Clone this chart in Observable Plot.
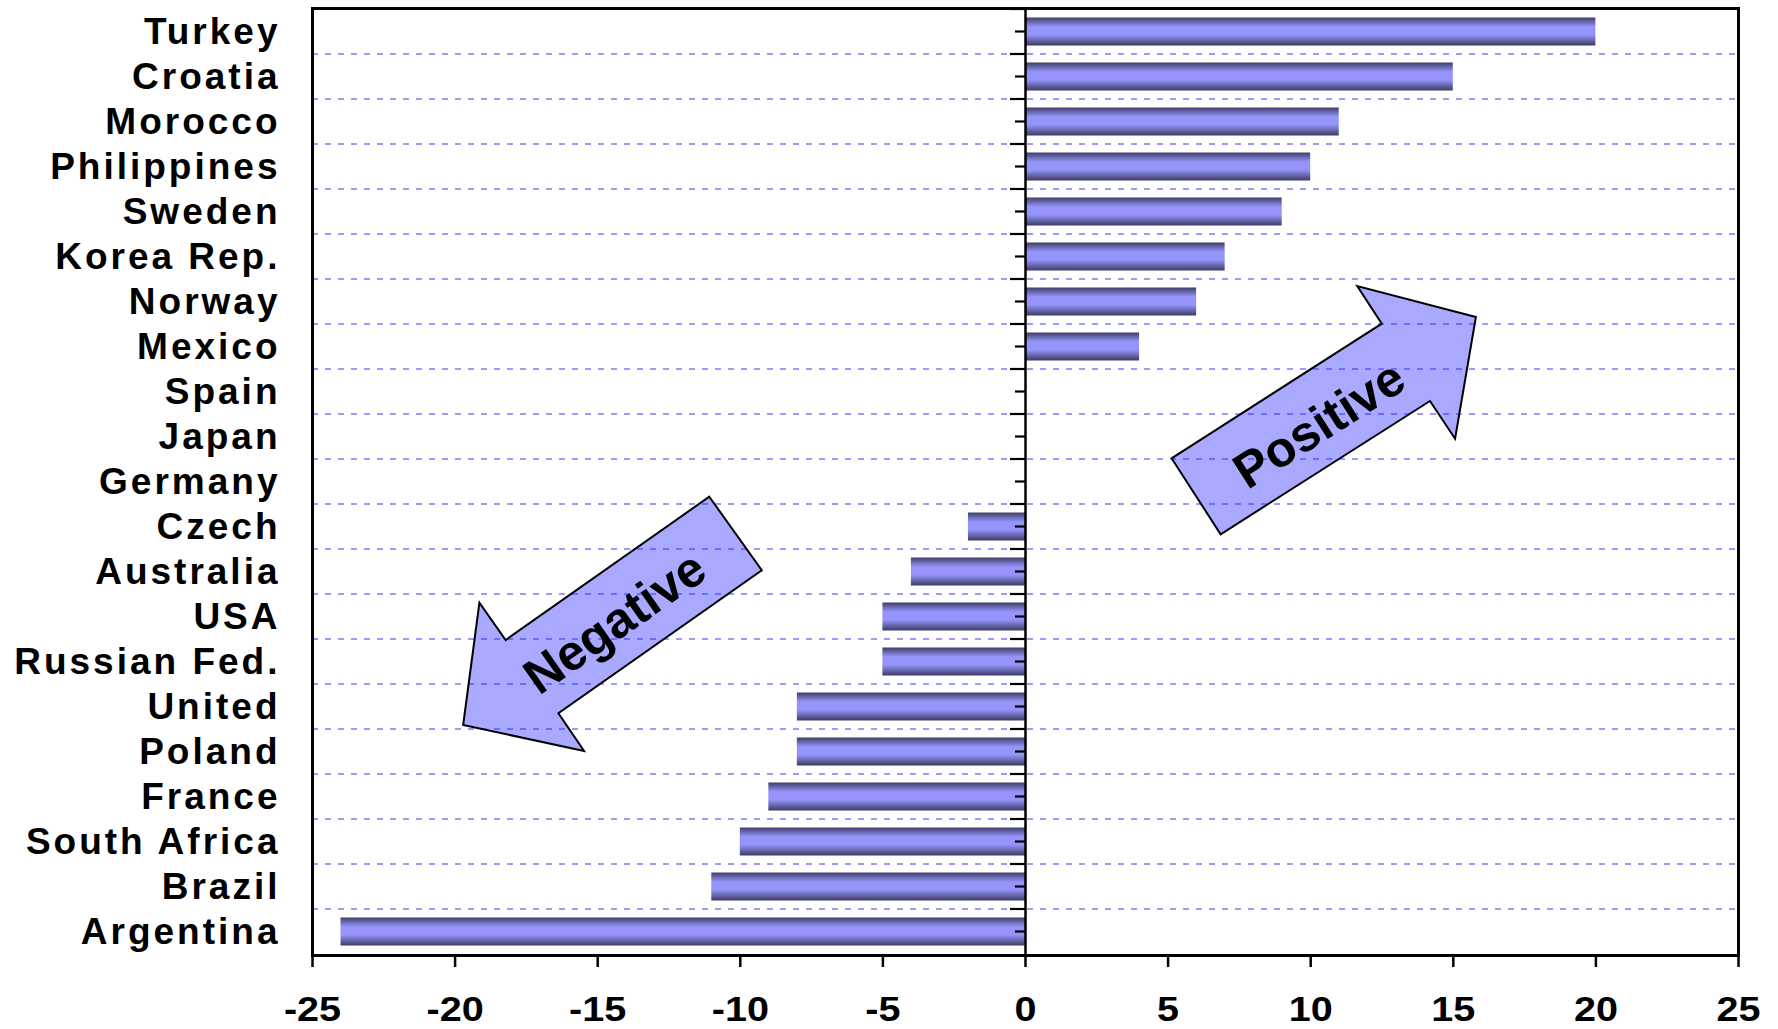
<!DOCTYPE html>
<html>
<head>
<meta charset="utf-8">
<script src="https://cdn.jsdelivr.net/npm/d3@7"></script>
<script src="https://cdn.jsdelivr.net/npm/@observablehq/plot@0.6"></script>
<style>
  html, body { margin: 0; padding: 0; background: #fff; }
</style>
</head>
<body>
<div id="chart"></div>
<script>
// Change by country (percentage points), top to bottom
const countries = ["Turkey", "Croatia", "Morocco", "Philippines", "Sweden", "Korea Rep.", "Norway", "Mexico",
  "Spain", "Japan", "Germany", "Czech", "Australia", "USA", "Russian Fed.", "United", "Poland", "France",
  "South Africa", "Brazil", "Argentina"];
const changes = [20, 15, 11, 10, 9, 7, 6, 4, 0, 0, 0, -2, -4, -5, -5, -8, -8, -9, -10, -11, -24];
const xTicks = [-25, -20, -15, -10, -5, 0, 5, 10, 15, 20, 25];

// Block arrows, vertices as [value, row position] (row 0 = top edge of the first band)
const positiveArrow = [[5.14, 9.985], [6.86, 11.673], [14.20, 8.711], [15.08, 9.549], [15.81, 6.844], [11.65, 6.156], [12.51, 6.993]];
const negativeArrow = [[-11.07, 10.838], [-9.23, 12.473], [-16.36, 15.651], [-15.46, 16.489], [-19.70, 15.911], [-19.13, 13.193], [-18.21, 14.022]];
const arrowLabels = [
  {text: "Positive", x: 10.3, row: 9.22, angle: -32.6},
  {text: "Negative", x: -14.4, row: 13.62, angle: -35}
];

const rows = countries.map((country, i) => ({country, change: changes[i]}));

const W = 1778, H = 1029;
const font = "'Liberation Sans', Arial, Helvetica, sans-serif";

// vertical shading for the bars
function barGradient() {
  const defs = d3.create("svg:defs");
  const g = defs.append("linearGradient").attr("id", "barShade").attr("x1", 0).attr("x2", 0).attr("y1", 0).attr("y2", 1);
  [[0, "#3e3e68"], [0.33, "#9494fa"], [0.62, "#9494fa"], [1, "#3c3c64"]].forEach(([o, c]) =>
    g.append("stop").attr("offset", o).attr("stop-color", c));
  return defs.node();
}

function rowPos(scales) {
  const y = scales.y;
  const step = y.step ? y.step() : y.bandwidth();
  const top = y(countries[0]);
  return r => top + r * step;
}

// dashed separators between categories
function separators(index, scales, values, dims) {
  const ry = rowPos(scales);
  const g = d3.create("svg:g");
  for (let r = 0; r < countries.length; r++) {
    g.append("line")
      .attr("x1", dims.marginLeft).attr("x2", dims.width - dims.marginRight)
      .attr("y1", ry(r)).attr("y2", ry(r))
      .attr("stroke", "#9a9aff").attr("stroke-width", 2)
      .attr("stroke-dasharray", "6,7");
  }
  return g.node();
}

// category ticks on the zero line
function zeroTicks(index, scales, values, dims) {
  const ry = rowPos(scales);
  const x0 = scales.x(0);
  const g = d3.create("svg:g").attr("stroke", "#000").attr("stroke-width", 2.2);
  for (let r = 0; r < countries.length; r++) {
    g.append("line").attr("x1", x0 - 15).attr("x2", x0).attr("y1", ry(r)).attr("y2", ry(r));
    g.append("line").attr("x1", x0 - 10).attr("x2", x0).attr("y1", ry(r + 0.5)).attr("y2", ry(r + 0.5));
  }
  return g.node();
}

function arrows(index, scales) {
  const ry = rowPos(scales);
  const x = scales.x;
  const g = d3.create("svg:g");
  for (const shape of [positiveArrow, negativeArrow]) {
    g.append("path")
      .attr("d", "M" + shape.map(([v, r]) => `${x(v)},${ry(r)}`).join("L") + "Z")
      .attr("fill", "#2828ff").attr("fill-opacity", 0.4)
      .attr("stroke", "#000").attr("stroke-width", 2).attr("stroke-linejoin", "miter");
  }
  for (const a of arrowLabels) {
    g.append("text")
      .attr("class", "arrow-label")
      .attr("transform", `translate(${x(a.x)},${ry(a.row)}) rotate(${a.angle})`)
      .attr("text-anchor", "middle").attr("dy", "0.35em")
      .attr("font-family", font).attr("font-weight", "bold").attr("font-size", 50)
      .attr("fill", "#000")
      .text(a.text);
  }
  return g.node();
}

const chart = Plot.plot({
  width: W,
  height: H,
  marginTop: 8,
  marginBottom: 74,
  marginLeft: 312,
  marginRight: 40,
  style: {fontFamily: font, background: "#fff"},
  x: {domain: [-25, 25], ticks: xTicks},
  y: {domain: countries, padding: 0},
  marks: [
    barGradient,
    separators,
    Plot.barX(rows, {x: "change", y: "country", fill: "url(#barShade)", insetTop: 8.5, insetBottom: 8.5}),
    Plot.ruleX([0], {stroke: "#000", strokeWidth: 2.5}),
    zeroTicks,
    arrows,
    Plot.frame({stroke: "#000", strokeWidth: 3}),
    Plot.axisX({ticks: xTicks, tickSize: 12, tickPadding: 29, fontSize: 35, fontWeight: "bold", strokeWidth: 2.5, label: null, tickFormat: d => String(d)}),
    Plot.axisY({tickSize: 0, tickPadding: 32, fontSize: 37, fontWeight: "bold", label: null})
  ]
});

document.getElementById("chart").appendChild(chart);

// tracked lettering for the country names, slightly widened digits on the value axis
chart.querySelectorAll("text").forEach(t => {
  if (t.classList.contains("arrow-label")) return;
  if (countries.includes(t.textContent)) {
    t.setAttribute("letter-spacing", "3");
    return;
  }
  const w = t.getComputedTextLength();
  if (w > 0) {
    t.setAttribute("textLength", (w * 1.13).toFixed(1));
    t.setAttribute("lengthAdjust", "spacingAndGlyphs");
  }
});
</script>
</body>
</html>
